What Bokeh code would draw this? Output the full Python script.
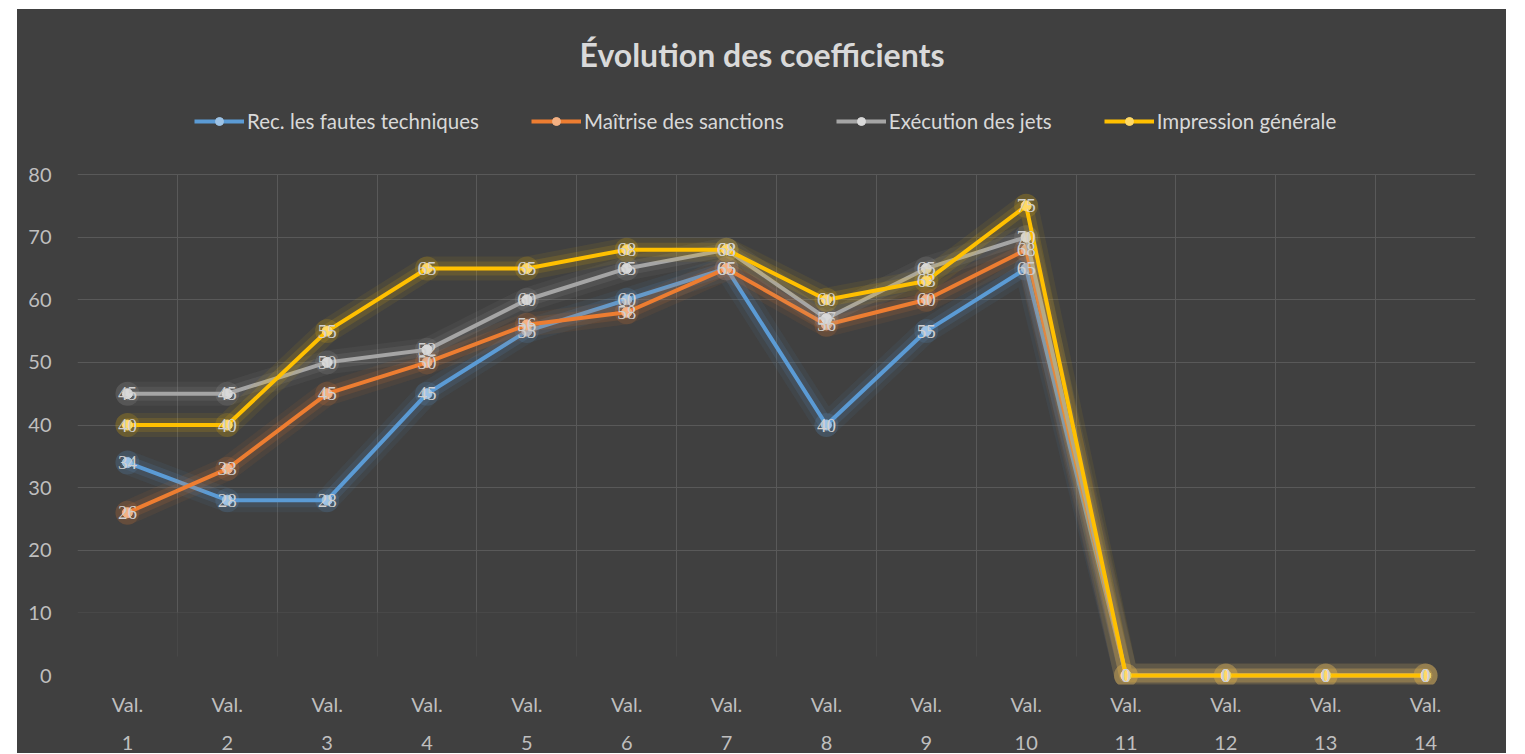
from bokeh.plotting import figure
from bokeh.models import (Range1d, FixedTicker, LinearAxis, Legend, LegendItem,
                          ColumnDataSource, LabelSet, Label, Spacer, Grid)
from bokeh.layouts import column, row
from bokeh.embed import file_html
from bokeh.resources import INLINE

# ---------------- data ----------------
categories = ["Val. 1", "Val. 2", "Val. 3", "Val. 4", "Val. 5", "Val. 6", "Val. 7",
              "Val. 8", "Val. 9", "Val. 10", "Val. 11", "Val. 12", "Val. 13", "Val. 14"]
series_names = ["Rec. les fautes techniques", "Maîtrise des sanctions",
                "Exécution des jets", "Impression générale"]
rec_fautes = [34, 28, 28, 45, 55, 60, 65, 40, 55, 65, 0, 0, 0, 0]
maitrise = [26, 33, 45, 50, 56, 58, 65, 56, 60, 68, 0, 0, 0, 0]
execution = [45, 45, 50, 52, 60, 65, 68, 57, 65, 70, 0, 0, 0, 0]
impression = [40, 40, 55, 65, 65, 68, 68, 60, 63, 75, 0, 0, 0, 0]
y_ticks = [0, 10, 20, 30, 40, 50, 60, 70, 80]
title_text = "Évolution des coefficients"

series_values = [rec_fautes, maitrise, execution, impression]
colors = ["#5B9BD5", "#ED7D31", "#A5A5A5", "#FFC000"]
marker_fills = ["#9DC3E6", "#F4B183", "#D9D9D9", "#FFD966"]

FONT = "Lato"
BG = "#404040"
GRID = "#595959"
TXT = "#bfbfbf"

n = len(categories)
x_pos = list(range(1, n + 1))
top_labels = [c.split(" ")[0] for c in categories]
num_labels = [c.split(" ")[1] for c in categories]
boundaries = [k - 0.5 for k in range(1, n + 2)]

# frame spans the whole height above the x axes; the upper part holds title + legend
Y_MIN, Y_TOP = -1.437, 106.35

p = figure(width=1489, height=744,
           x_range=Range1d(0.5, n + 0.5), y_range=Range1d(Y_MIN, Y_TOP),
           output_backend="svg", toolbar_location=None,
           background_fill_color=BG, border_fill_color=None, outline_line_color=None,
           min_border_left=60, min_border_right=31, min_border_top=0,
           min_border_bottom=69, x_axis_location=None)
p.styles = {"background-color": BG}

yax = p.yaxis[0]
yax.ticker = FixedTicker(ticks=y_ticks)
yax.axis_line_color = None
yax.major_tick_line_color = None
yax.minor_tick_line_color = None
yax.major_label_standoff = 20
yax.major_label_text_font = FONT
yax.major_label_text_font_size = "20px"
yax.major_label_text_color = TXT

# gridlines fade out towards the bottom, as in the original
p.xgrid.visible = False
p.ygrid.ticker = FixedTicker(ticks=y_ticks[2:])
p.ygrid.grid_line_color = GRID
p.ygrid.grid_line_width = 1
p.add_layout(Grid(dimension=1, ticker=FixedTicker(ticks=y_ticks[1:2]),
                  grid_line_color=GRID, grid_line_alpha=0.35, grid_line_width=1))
p.add_layout(Grid(dimension=0, ticker=FixedTicker(ticks=boundaries),
                  cross_bounds=(y_ticks[1], y_ticks[-1]),
                  grid_line_color=GRID, grid_line_width=1))
p.add_layout(Grid(dimension=0, ticker=FixedTicker(ticks=boundaries),
                  cross_bounds=(3, y_ticks[1]),
                  grid_line_color=GRID, grid_line_alpha=0.35, grid_line_width=1))


def make_xaxis(labels, standoff):
    return LinearAxis(ticker=FixedTicker(ticks=x_pos),
                      major_label_overrides={x: t for x, t in zip(x_pos, labels)},
                      axis_line_color=None, major_tick_line_color=None,
                      minor_tick_line_color=None, major_tick_out=0, major_tick_in=0,
                      major_label_standoff=standoff, major_label_text_font=FONT,
                      major_label_text_font_size="20px", major_label_text_color=TXT)


p.add_layout(make_xaxis(top_labels, 7), "below")
p.add_layout(make_xaxis(num_labels, 17), "below")

items = []
for name, vals, col, mf in zip(series_names, series_values, colors, marker_fills):
    src = ColumnDataSource(dict(x=x_pos, y=vals, txt=[str(v) for v in vals]))
    # soft glow
    p.line("x", "y", source=src, line_color=col, line_width=24, line_alpha=0.07,
           line_join="round", line_cap="round")
    p.line("x", "y", source=src, line_color=col, line_width=14, line_alpha=0.13,
           line_join="round", line_cap="round")
    p.scatter("x", "y", source=src, size=24, fill_color=col, fill_alpha=0.16,
              line_color=None)
    lr = p.line("x", "y", source=src, line_color=col, line_width=4, line_join="round")
    sr = p.scatter("x", "y", source=src, size=10, fill_color=mf, line_color=mf)
    p.add_layout(LabelSet(x="x", y="y", text="txt", source=src, text_align="center",
                          text_baseline="middle", text_font=FONT, text_font_size="19px",
                          text_color="#d0d0d0"))
    items.append(LegendItem(label=name, renderers=[lr, sr]))

p.add_layout(Label(x=684.5, y=630, x_units="screen", y_units="screen", text=title_text,
                   text_align="center", text_baseline="middle", text_font=FONT,
                   text_font_size="32px", text_font_style="bold", text_color="#d9d9d9"))

legend = Legend(items=items, orientation="horizontal", location=(117, 551),
                background_fill_alpha=0, border_line_alpha=0,
                label_text_color="#d9d9d9", label_text_font=FONT,
                label_text_font_size="20.5px", glyph_width=50, glyph_height=20,
                label_standoff=3, spacing=52, margin=0, padding=0)
p.add_layout(legend)

layout = column(Spacer(height=9), row(Spacer(width=17), p))
open("out.html", "w").write(file_html(layout, INLINE))
